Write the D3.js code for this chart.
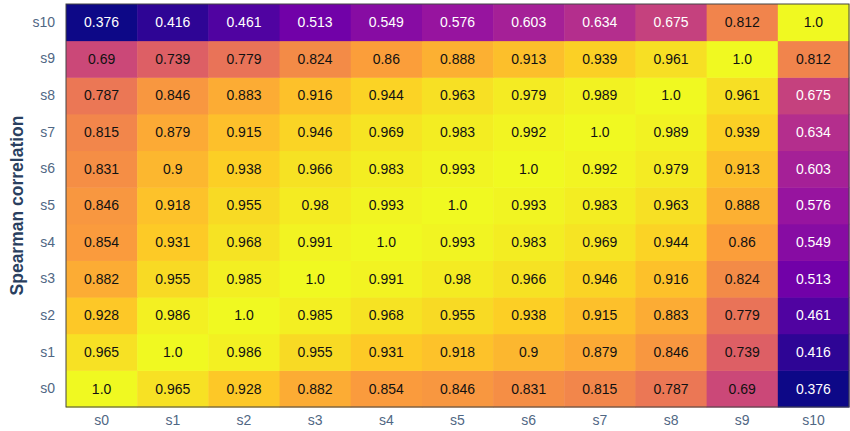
<!DOCTYPE html>
<html>
<head>
<meta charset="utf-8">
<script src="https://cdn.jsdelivr.net/npm/d3@7"></script>
<style>
  body { margin: 0; background: #fff; }
  text { font-family: "Liberation Sans", Arial, sans-serif; }
</style>
</head>
<body>
<div id="chart"></div>
<script>
let labels = ['s0', 's1', 's2', 's3', 's4', 's5', 's6', 's7', 's8', 's9', 's10'];

// rows s0..s10, columns s0..s10
let corr = [
    [1.0, 0.965, 0.928, 0.882, 0.854, 0.846, 0.831, 0.815, 0.787, 0.69, 0.376],
    [0.965, 1.0, 0.986, 0.955, 0.931, 0.918, 0.9, 0.879, 0.846, 0.739, 0.416],
    [0.928, 0.986, 1.0, 0.985, 0.968, 0.955, 0.938, 0.915, 0.883, 0.779, 0.461],
    [0.882, 0.955, 0.985, 1.0, 0.991, 0.98, 0.966, 0.946, 0.916, 0.824, 0.513],
    [0.854, 0.931, 0.968, 0.991, 1.0, 0.993, 0.983, 0.969, 0.944, 0.86, 0.549],
    [0.846, 0.918, 0.955, 0.98, 0.993, 1.0, 0.993, 0.983, 0.963, 0.888, 0.576],
    [0.831, 0.9, 0.938, 0.966, 0.983, 0.993, 1.0, 0.992, 0.979, 0.913, 0.603],
    [0.815, 0.879, 0.915, 0.946, 0.969, 0.983, 0.992, 1.0, 0.989, 0.939, 0.634],
    [0.787, 0.846, 0.883, 0.916, 0.944, 0.963, 0.979, 0.989, 1.0, 0.961, 0.675],
    [0.69, 0.739, 0.779, 0.824, 0.86, 0.888, 0.913, 0.939, 0.961, 1.0, 0.812],
    [0.376, 0.416, 0.461, 0.513, 0.549, 0.576, 0.603, 0.634, 0.675, 0.812, 1.0]
];

let plasma = ['#0d0887', '#46039f', '#7201a8', '#9c179e', '#bd3786',
    '#d8576b', '#ed7953', '#fb9f3a', '#fdca26', '#f0f921'];

let width = 850;
let height = 431;
let margin = { top: 4, right: 1, bottom: 24, left: 66 };
let plotWidth = width - margin.left - margin.right;
let plotHeight = height - margin.top - margin.bottom;

let svg = d3.select('#chart')
    .append('svg')
    .attr('width', width)
    .attr('height', height);

let plot = svg.append('g')
    .attr('transform', `translate(${margin.left},${margin.top})`);

let xScale = d3.scaleBand()
    .domain(labels)
    .range([0, plotWidth]);
let yScale = d3.scaleBand()
    .domain(labels)
    .range([plotHeight, 0]);

let allValues = corr.flat();
let zMin = d3.min(allValues);
let zMax = d3.max(allValues);
let color = d3.scaleLinear()
    .domain(plasma.map((c, i) => zMin + (zMax - zMin) * i / (plasma.length - 1)))
    .range(plasma)
    .interpolate(d3.interpolateRgb);

let cells = [];
corr.forEach((row, i) => {
    row.forEach((v, j) => {
        cells.push({ row: labels[i], col: labels[j], value: v });
    });
});

let fmt = v => Number.isInteger(v) ? v.toFixed(1) : String(v);

plot.selectAll('rect.cell')
    .data(cells)
    .enter()
    .append('rect')
    .classed('cell', true)
    .attr('x', d => xScale(d.col))
    .attr('y', d => yScale(d.row))
    .attr('width', xScale.bandwidth() + 0.5)
    .attr('height', yScale.bandwidth() + 0.5)
    .attr('fill', d => color(d.value));

plot.selectAll('text.val')
    .data(cells)
    .enter()
    .append('text')
    .classed('val', true)
    .attr('x', d => xScale(d.col) + xScale.bandwidth() / 2)
    .attr('y', d => yScale(d.row) + yScale.bandwidth() / 2)
    .attr('dy', '0.35em')
    .attr('text-anchor', 'middle')
    .style('font-size', '14px')
    .attr('fill', d => d.value < 0.68 ? '#ffffff' : '#111111')
    .text(d => fmt(d.value));

// frame
plot.append('rect')
    .attr('x', 0)
    .attr('y', 0)
    .attr('width', plotWidth)
    .attr('height', plotHeight)
    .attr('fill', 'none')
    .attr('stroke', '#444')
    .attr('stroke-width', 1);

let xAxis = d3.axisBottom(xScale).tickSize(0).tickPadding(8);
let xAxisGroup = plot.append('g')
    .attr('transform', `translate(0,${plotHeight})`)
    .call(xAxis);
let yAxis = d3.axisLeft(yScale).tickSize(0).tickPadding(11);
let yAxisGroup = plot.append('g')
    .call(yAxis);

[xAxisGroup, yAxisGroup].forEach(g => {
    g.select('.domain').remove();
    g.selectAll('text')
        .style('font-size', '14px')
        .style('font-family', '"Liberation Sans", Arial, sans-serif')
        .attr('fill', '#506784');
});

svg.append('text')
    .attr('transform', `translate(23,${margin.top + plotHeight / 2}) rotate(-90)`)
    .attr('text-anchor', 'middle')
    .style('font-size', '17.5px')
    .style('font-weight', 'bold')
    .attr('fill', '#2a3f5f')
    .text('Spearman correlation');
</script>
</body>
</html>
